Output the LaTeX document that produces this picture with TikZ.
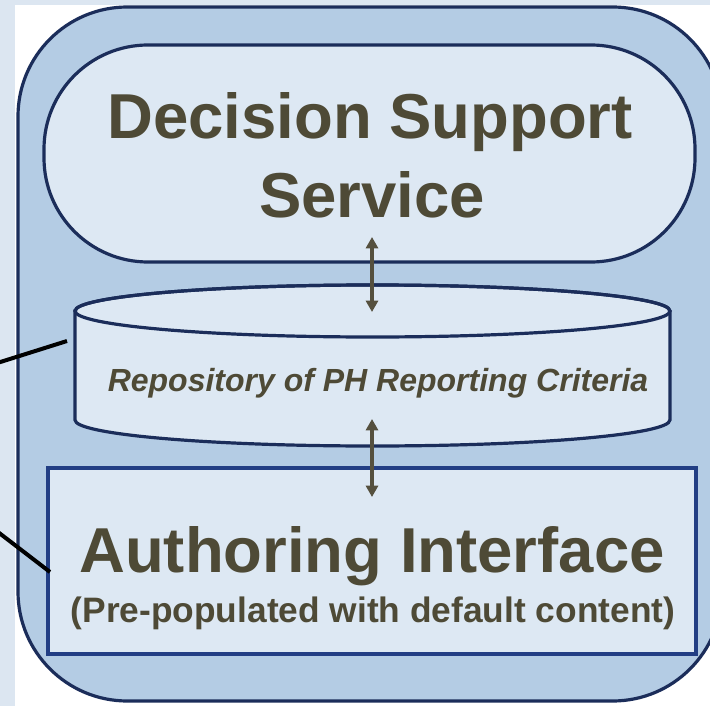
\documentclass[tikz,border=0pt]{standalone}
\usepackage{fontspec}
\setmainfont{Liberation Sans}
\usetikzlibrary{arrows.meta}

\definecolor{pagetint}{HTML}{DCE6F1}
\definecolor{framefill}{HTML}{B4CCE4}
\definecolor{panelfill}{HTML}{DDE8F3}
\definecolor{navy}{HTML}{1B2D5A}
\definecolor{boxblue}{HTML}{223E84}
\definecolor{inktext}{HTML}{4E4A36}
\definecolor{arrowink}{HTML}{55503E}

\tikzset{
  outerframe/.style={draw=navy, line width=2.4pt, fill=framefill, rounded corners=82pt},
  panel/.style={draw=navy, line width=2.4pt, fill=panelfill},
  authorbox/.style={draw=boxblue, line width=2.7pt, fill=panelfill},
  bigtitle/.style={text=inktext, anchor=base, inner sep=0pt,
    font=\fontsize{47.6pt}{57pt}\selectfont\bfseries},
  midtitle/.style={text=inktext, anchor=base, inner sep=0pt,
    font=\fontsize{26.5pt}{32pt}\selectfont\bfseries},
  repotitle/.style={text=inktext, anchor=base, inner sep=0pt,
    font=\fontsize{24pt}{29pt}\selectfont\bfseries\itshape},
  flow/.style={draw=arrowink, line width=2.3pt,
    {Triangle[length=8.5pt,width=9pt]}-{Triangle[length=8.5pt,width=9pt]}},
  feedline/.style={draw=black, line width=3pt}
}

\begin{document}
\begin{tikzpicture}[x=0.75pt, y=-0.75pt]
\useasboundingbox (0,0) rectangle (710,706);

% page background with the tinted margin strips
\fill[white] (0,0) rectangle (710,706);
\fill[pagetint] (0,0) rectangle (15,706);
\fill[pagetint] (0,0) rectangle (710,5);

% enclosing rounded frame
\path[outerframe] (18,7) rectangle (722,701);

% decision support service (stadium)
\path[panel, rounded corners=78pt] (44,45) rectangle (695,262);
\node[bigtitle] (dssA) at (370,139) {Decision Support};
\node[bigtitle] (dssB) at (372,217) {Service};

% repository cylinder
\path[panel] (75,311) -- (75,420)
  arc[start angle=180, end angle=360, x radius=223.1pt, y radius=19.5pt]
  -- (670,311)
  arc[start angle=0, end angle=180, x radius=223.1pt, y radius=19.5pt] -- cycle;
\draw[navy, line width=2.4pt] (372.5,311) ellipse [x radius=223.1pt, y radius=19.5pt];
\node[repotitle] (repo) at (378,391) {Repository of PH Reporting Criteria};

% authoring interface box
\path[authorbox] (48,468) rectangle (696,654);
\node[bigtitle] (authA) at (372,572) {Authoring Interface};
\node[midtitle] (authB) at (373,622) {(Pre-populated with default content)};

% two-way links between the layers
\coordinate (dssLow) at (372,237);
\coordinate (repoTop) at (372,312);
\coordinate (repoLow) at (372,419);
\coordinate (authTop) at (372,497);
\draw[flow] (dssLow) -- (repoTop);
\draw[flow] (repoLow) -- (authTop);

% incoming lines from the left
\coordinate (feedA) at (-6,364);
\coordinate (repoEdge) at (67,341);
\coordinate (feedB) at (-6,529);
\coordinate (authEdge) at (50,572);
\draw[feedline] (feedA) -- (repoEdge);
\draw[feedline] (feedB) -- (authEdge);
\end{tikzpicture}
\end{document}
